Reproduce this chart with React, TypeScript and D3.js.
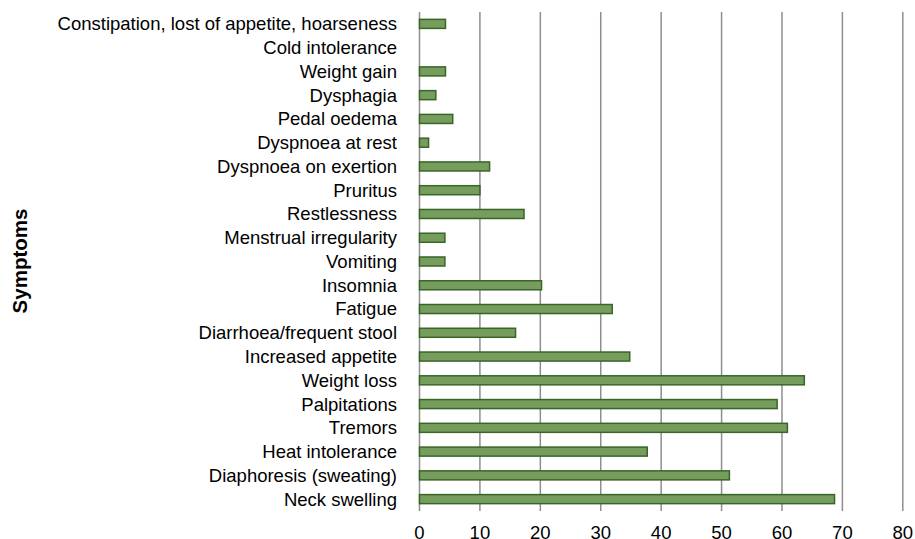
import React, { useEffect, useRef } from "react";
import * as d3 from "d3";

const symptoms = [
  "Constipation, lost of appetite, hoarseness",
  "Cold intolerance",
  "Weight gain",
  "Dysphagia",
  "Pedal oedema",
  "Dyspnoea at rest",
  "Dyspnoea on exertion",
  "Pruritus",
  "Restlessness",
  "Menstrual irregularity",
  "Vomiting",
  "Insomnia",
  "Fatigue",
  "Diarrhoea/frequent stool",
  "Increased appetite",
  "Weight loss",
  "Palpitations",
  "Tremors",
  "Heat intolerance",
  "Diaphoresis (sweating)",
  "Neck swelling",
];

const percent = [
  4.3, 0, 4.3, 2.7, 5.5, 1.5, 11.6, 10.0, 17.3, 4.2, 4.2, 20.2, 31.9, 15.9, 34.8,
  63.7, 59.2, 60.9, 37.7, 51.3, 68.7,
];

const xTicks = [0, 10, 20, 30, 40, 50, 60, 70, 80];

const W = 915;
const H = 539;
const FONT = "Liberation Sans, Arial, Helvetica, sans-serif";

function SymptomChart() {
  const ref = useRef<SVGSVGElement | null>(null);

  useEffect(() => {
    if (!ref.current) return;
    const svg = d3.select(ref.current);
    svg.selectAll("*").remove();

    const x = d3.scaleLinear().domain([0, 80]).range([419.5, 902.8]);
    const y = d3
      .scaleBand<string>()
      .domain(symptoms)
      .range([12, 511])
      .paddingInner(0.62)
      .paddingOuter(0.31);

    // gridlines
    svg
      .append("g")
      .selectAll("line")
      .data(xTicks)
      .join("line")
      .attr("x1", (d) => x(d))
      .attr("x2", (d) => x(d))
      .attr("y1", 12)
      .attr("y2", 511)
      .attr("stroke", "#8e8e8e")
      .attr("stroke-width", 1.5);

    // bars
    svg
      .append("g")
      .selectAll("rect")
      .data(percent)
      .join("rect")
      .attr("x", x(0))
      .attr("y", (_d, i) => y(symptoms[i])!)
      .attr("width", (d) => Math.max(0, x(d) - x(0)))
      .attr("height", y.bandwidth())
      .attr("fill", (d) => (d > 0 ? "#779d5e" : "none"))
      .attr("stroke", (d) => (d > 0 ? "#376626" : "none"))
      .attr("stroke-width", 1.5);

    // category labels
    svg
      .append("g")
      .selectAll("text")
      .data(symptoms)
      .join("text")
      .attr("x", 397)
      .attr("y", (d) => y(d)! + y.bandwidth() / 2)
      .attr("dy", "0.35em")
      .attr("text-anchor", "end")
      .attr("font-family", FONT)
      .attr("font-size", 18.5)
      .attr("fill", "#000")
      .text((d) => d);

    // x tick labels (cut by the bottom edge, as in the source)
    svg
      .append("g")
      .selectAll("text")
      .data(xTicks)
      .join("text")
      .attr("x", (d) => x(d))
      .attr("y", 539)
      .attr("text-anchor", "middle")
      .attr("font-family", FONT)
      .attr("font-size", 18.5)
      .attr("fill", "#000")
      .text((d) => d);

    svg
      .append("text")
      .attr("transform", "translate(27,261) rotate(-90)")
      .attr("text-anchor", "middle")
      .attr("font-family", FONT)
      .attr("font-size", 20.5)
      .attr("font-weight", "bold")
      .text("Symptoms");
  }, []);

  return (
    <svg
      ref={ref}
      width={W}
      height={H}
      style={{ position: "absolute", left: 0, top: 0, background: "#fff" }}
    />
  );
}

export default function App() {
  return <SymptomChart />;
}
